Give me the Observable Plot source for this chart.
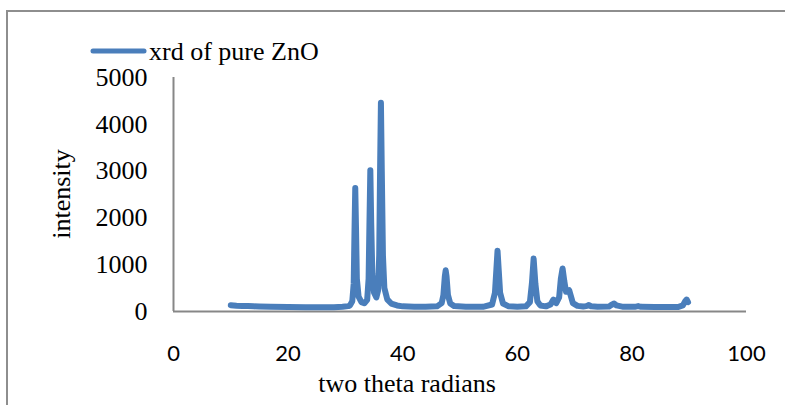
<!DOCTYPE html>
<html>
<head>
<meta charset="utf-8">
<script src="https://cdn.jsdelivr.net/npm/d3@7"></script>
<script src="https://cdn.jsdelivr.net/npm/@observablehq/plot@0.6"></script>
<style>
  html, body { margin: 0; padding: 0; background: #fff; }
  #wrap { position: relative; width: 785px; height: 405px; overflow: hidden; }
  #wrap > svg { position: absolute; left: 0; top: 0; }
  #frame { position: absolute; left: 6px; top: 10px; width: 820px; height: 440px; border: 2px solid #8e8e8e; box-sizing: border-box; }
</style>
</head>
<body>
<div id="wrap"><div id="frame"></div></div>
<script>
// Series: XRD of pure ZnO (2θ in degrees vs intensity)
const twoTheta = [
  10, 11, 12, 13, 14, 15, 17, 20, 23, 26, 28, 29.5, 30.5,
  30.8, 31.2, 31.45, 31.6, 31.72, 31.85, 32.0, 32.3, 32.8, 33.3,
  33.8, 34.05, 34.2, 34.35, 34.5, 34.7, 35.0, 35.4,
  35.7, 35.9, 36.05, 36.2, 36.35, 36.55, 36.8, 37.3, 38, 39, 40, 42, 44, 46, 46.8,
  47.1, 47.35, 47.5, 47.65, 47.9, 48.3, 49, 51, 54, 55.6, 56.1,
  56.35, 56.55, 56.75, 57.0, 57.5, 58.5, 60, 61.5, 62.2, 62.55,
  62.85, 63.15, 63.5, 64, 65, 65.8, 66.3, 66.8, 67.3, 67.6,
  67.9, 68.2, 68.5, 68.8, 69.05, 69.3, 69.7, 70.5, 71.5, 72.2, 72.5, 72.9, 74, 76,
  76.4, 76.9, 77.3, 78.5, 80.5, 81.1, 81.6, 84, 88, 88.9, 89.3, 89.55, 89.8
];
const intensity = [
  135, 125, 120, 115, 110, 105, 100, 95, 90, 90, 92, 100, 115,
  130, 220, 600, 1800, 2640, 1800, 700, 320, 200, 175,
  250, 700, 1900, 3020, 1900, 800, 400, 300,
  450, 1200, 3000, 4460, 3000, 1200, 500, 260, 170, 130, 110, 100, 100, 110, 180,
  350, 750, 880, 750, 350, 170, 115, 100, 100, 150, 400,
  900, 1300, 900, 400, 170, 110, 100, 110, 200, 600,
  1130, 600, 220, 130, 110, 150, 255, 180, 300, 700,
  920, 650, 420, 440, 455, 350, 180, 120, 105, 120, 140, 110, 100, 105,
  140, 170, 130, 100, 100, 115, 100, 95, 95, 130, 220, 255, 200
];
const xTicks = [0, 20, 40, 60, 80, 100];
const yTicks = [0, 1000, 2000, 3000, 4000, 5000];
const seriesName = "xrd of pure ZnO";
const xTitle = "two theta radians";
const yTitle = "intensity";

const data = twoTheta.map((x, i) => ({x, y: intensity[i]}));
const blue = "#4a7ebb";
const axisGray = "#878787";
const plain = d => String(d);

const chart = Plot.plot({
  width: 785,
  height: 405,
  marginLeft: 173,
  marginRight: 39,
  marginTop: 77,
  marginBottom: 94,
  style: {background: "transparent"},
  x: {domain: [0, 100]},
  y: {domain: [0, 5000]},
  marks: [
    Plot.axisX({ticks: xTicks, tickFormat: plain, tickSize: 0, tickPadding: 34, fontFamily: "Lato", fontSize: 22, label: null, fill: "#000"}),
    Plot.axisY({ticks: yTicks, tickFormat: plain, tickSize: 0, tickPadding: 26, fontFamily: "Liberation Serif", fontSize: 26, label: null, fill: "#000"}),
    Plot.ruleX([0], {stroke: axisGray, strokeWidth: 2}),
    Plot.ruleY([0], {stroke: axisGray, strokeWidth: 2}),
    Plot.line(data, {x: "x", y: "y", stroke: blue, strokeWidth: 6, strokeLinejoin: "round", strokeLinecap: "round"})
  ]
});
document.getElementById("wrap").appendChild(chart);

// Overlay for legend and axis titles
const ov = d3.select("#wrap").append("svg")
  .attr("width", 785).attr("height", 405)
  .style("position", "absolute").style("left", 0).style("top", 0)
  .style("font-family", "'Liberation Serif', 'Times New Roman', serif")
  .style("font-size", "26px");
ov.append("line").attr("x1", 93).attr("x2", 144).attr("y1", 51).attr("y2", 51)
  .attr("stroke", blue).attr("stroke-width", 5).attr("stroke-linecap", "round");
ov.append("text").attr("x", 149).attr("y", 60).text(seriesName);
ov.append("text").attr("x", 407).attr("y", 392).attr("text-anchor", "middle").text(xTitle);
ov.append("text").attr("transform", "translate(70,194) rotate(-90)").attr("text-anchor", "middle").text(yTitle);
</script>
</body>
</html>
